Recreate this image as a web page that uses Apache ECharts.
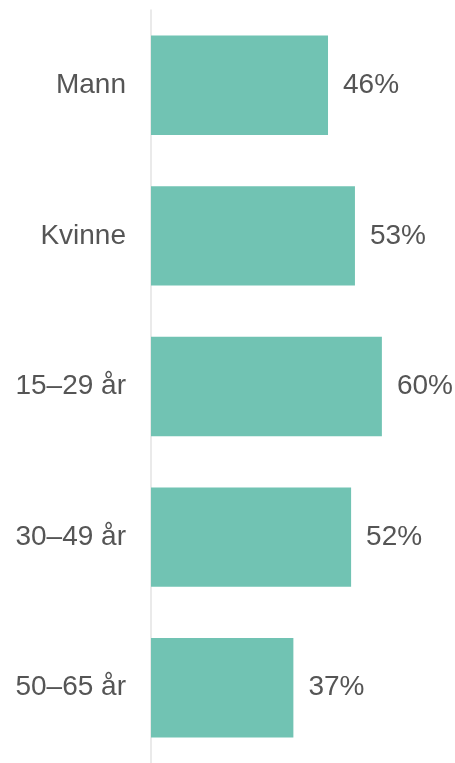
<!DOCTYPE html>
<html>
<head>
<meta charset="utf-8">
<script src="https://cdn.jsdelivr.net/npm/echarts@6/dist/echarts.min.js"></script>
<style>html,body{margin:0;padding:0;background:#fff}#c{width:455px;height:763px}</style>
</head>
<body>
<div id="c"></div>
<script>
var categories = ['Mann', 'Kvinne', '15–29 år', '30–49 år', '50–65 år'];
var values = [46, 53, 60, 52, 37];

var chart = echarts.init(document.getElementById('c'), null, {renderer: 'canvas'});
chart.setOption({
  animation: false,
  grid: {left: 151, top: 10, right: 0, height: 756, containLabel: false},
  xAxis: {type: 'value', min: 0, max: 79, show: false},
  yAxis: {
    type: 'category', data: categories, inverse: true,
    axisLine: {show: true, lineStyle: {color: '#e3e3e3', width: 1.5}},
    axisTick: {show: false},
    axisLabel: {color: '#555', fontSize: 28, fontFamily: 'Liberation Sans', margin: 25}
  },
  series: [{
    type: 'bar', data: values, barCategoryGap: '34%',
    itemStyle: {color: '#71c3b3'},
    label: {show: true, position: 'right', distance: 15, formatter: '{c}%', color: '#555', fontSize: 28, fontFamily: 'Liberation Sans'}
  }]
});
</script>
</body>
</html>
